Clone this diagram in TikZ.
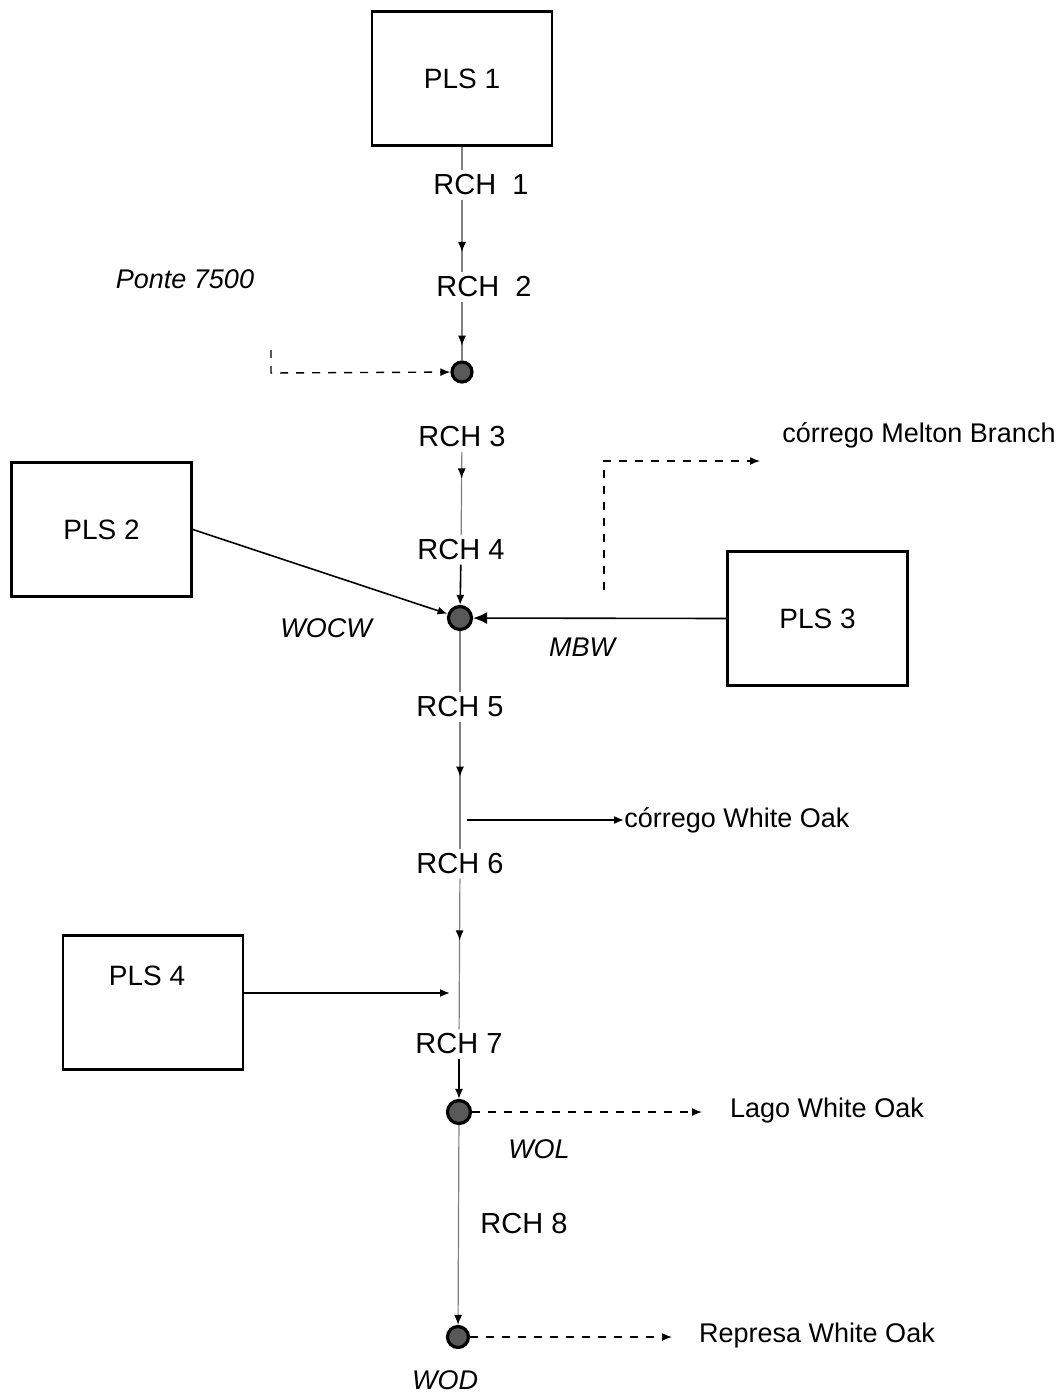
\documentclass[tikz,border=0pt]{standalone}
\usepackage{fontspec}
\setmainfont{Liberation Sans}
\usetikzlibrary{arrows.meta,decorations.markings}
\begin{document}
\begin{tikzpicture}[x=0.5pt,y=-0.5pt,
 every node/.style={font=\fontsize{14}{16}\selectfont, inner sep=2pt},
 box/.style={draw, line width=1.3pt, minimum width=90pt, minimum height=67pt, inner sep=0pt},
 lbl/.style={font=\fontsize{14.5}{16}\selectfont},
 outl/.style={font=\fontsize{13.5}{16}\selectfont},
 itl/.style={font=\fontsize{13.5}{16}\selectfont\itshape},
 junc/.style={circle, draw=black, line width=1.6pt, fill=black!65, minimum size=#1, inner sep=0pt},
 stem/.style={draw=black!50, line width=0.6pt},
 midtip/.style={postaction=decorate, decoration={markings, mark=at position #1 with {\arrow{Latex[length=5pt,width=4pt,color=black]}}}},
 flow/.style={line width=0.8pt, -{Latex[length=5pt,width=4pt]}},
 dflow/.style={line width=0.7pt, dash pattern=on 4pt off 4pt, -{Latex[length=5pt,width=4pt]}},
]
\useasboundingbox (0,0) rectangle (1063,1392);

% boxes
\node[box] (pls1) at (462,78.5) {PLS 1};
\node[box] (pls2) at (101.5,529.5) {PLS 2};
\node[box] (pls3) at (817.5,618.5) {PLS 3};
\node[box] (pls4) at (153,1002.5) {};
\node (pls4t) at (147,976) {PLS 4};

% reach labels
\node[lbl] (rch1) at (481,185) {RCH\ \ 1};
\node[lbl] (rch2) at (484,287) {RCH\ \ 2};
\node[lbl] (rch3) at (462,437) {RCH 3};
\node[lbl] (rch4) at (461,550) {RCH 4};
\node[lbl] (rch5) at (460,707) {RCH 5};
\node[lbl] (rch6) at (460,864) {RCH 6};
\node[lbl] (rch7) at (459,1044) {RCH 7};
\node[lbl] (rch8) at (524,1224) {RCH 8};

% junctions
\node[junc=10pt] (j1) at (462,372) {};
\node[junc=11.5pt] (j2) at (460,618) {};
\node[junc=11.5pt] (j3) at (459,1112) {};
\node[junc=10.5pt] (j4) at (458,1337) {};

% italic labels
\node[itl] (ponte) at (185,279) {Ponte 7500};
\node[itl] (wocw) at (326,628) {WOCW};
\node[itl] (mbw) at (582,647) {MBW};
\node[itl] (wol) at (539,1149) {WOL};
\node[itl] (wod) at (445,1380) {WOD};

% outlet labels
\node[outl] (melton) at (919,435) {córrego Melton Branch};
\node[outl, anchor=west, inner sep=0pt] (cwo) at (624,820) {córrego White Oak};
\node[outl] (lago) at (827,1111) {Lago White Oak};
\node[outl] (represa) at (817,1336) {Represa White Oak};

% main stem
\draw[stem] (pls1.south) -- (rch1.north -| pls1.south);
\draw[stem, midtip=0.72] (rch1.south -| j1) -- (rch2.north -| j1);
\draw[stem, midtip=0.75] (rch2.south -| j1) -- (j1);
\draw[stem, midtip=0.32] (rch3) -- (rch4);
\draw[flow] (rch4) -- (j2);
\draw[stem] (j2) -- (rch5);
\draw[stem, midtip=0.43] (rch5) -- (rch6);
\draw[stem, midtip=0.41] (rch6) -- (rch7);
\draw[flow] (rch7) -- (j3);
\draw[stem, -{Latex[length=5pt,width=4pt,color=black]}] (j3) -- (j4);

% inflows
\coordinate (pbend) at (271,373);
\coordinate (pstart) at (271,350);
\draw[dflow] (pstart) -- (pbend) -- (j1);
\draw[flow] (pls2.east) -- (j2);
\draw[line width=0.8pt, -{Latex[length=7pt,width=6pt]}] (pls3.west) -- (j2);
\coordinate (p4end) at (450,993);
\draw[flow] (pls4.east |- p4end) -- (p4end);

% outflows
\coordinate (mstart) at (604,590);
\coordinate (mbend) at (604,461);
\coordinate (mend) at (760,461);
\draw[dflow] (mstart) -- (mbend) -- (mend);
\coordinate (wostart) at (467,820);
\draw[flow] (wostart) -- (cwo.west);
\coordinate (lagoend) at (702,1112);
\draw[dflow] (j3) -- (lagoend);
\coordinate (repend) at (672,1337);
\draw[dflow] (j4) -- (repend);
\end{tikzpicture}
\end{document}
